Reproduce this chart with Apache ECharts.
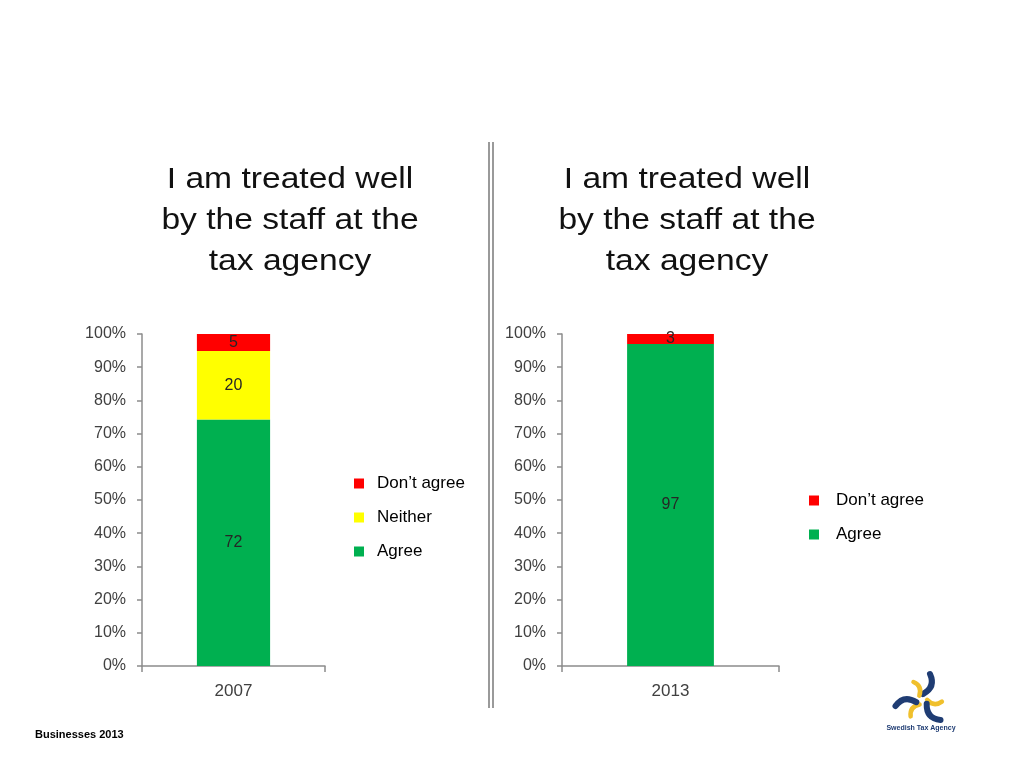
<!DOCTYPE html>
<html>
<head>
<meta charset="utf-8">
<script src="https://cdn.jsdelivr.net/npm/echarts@6/dist/echarts.min.js"></script>
<style>
html,body{margin:0;padding:0;background:#fff;}
#main{width:1024px;height:768px;}
</style>
</head>
<body>
<div id="main"></div>
<script>
// ---- data ----
const titleText = "I am treated well\nby the staff at the\ntax agency";
const categories2007 = ["2007"];
const categories2013 = ["2013"];
const agree2007 = [72];
const neither2007 = [20];
const disagree2007 = [5];
const agree2013 = [97];
const disagree2013 = [3];
const footer = "Businesses 2013";
const logoText = "Swedish Tax Agency";

const COLORS = { agree: '#00b050', neither: '#ffff00', disagree: '#ff0000' };
const FONT = 'Liberation Sans, Arial, sans-serif';

function pct(arr, totals) { return arr.map((v, i) => v / totals[i] * 100); }
const tot2007 = agree2007.map((v, i) => v + neither2007[i] + disagree2007[i]);
const tot2013 = agree2013.map((v, i) => v + disagree2013[i]);

const axisFont = { fontFamily: FONT, fontSize: 16, color: '#404040' };
const axisLineStyle = { color: '#8c8c8c', width: 1.5 };

function mkSeries(name, raw, totals, color, idx, stack) {
  return {
    name: name, type: 'bar', stack: stack, xAxisIndex: idx, yAxisIndex: idx,
    barWidth: '40%',
    data: pct(raw, totals).map((v, i) => ({ value: v, raw: raw[i] })),
    itemStyle: { color: color },
    label: {
      show: true, position: 'inside',
      formatter: p => String(p.data.raw),
      fontFamily: FONT, fontSize: 16, color: '#262626'
    }
  };
}

function mkY(idx) {
  return {
    type: 'value', gridIndex: idx, min: 0, max: 100, interval: 10,
    axisLine: { show: true, lineStyle: axisLineStyle },
    axisTick: { show: true, length: 5, lineStyle: axisLineStyle },
    splitLine: { show: false },
    axisLabel: Object.assign({ formatter: '{value}%', margin: 16 }, axisFont)
  };
}
function mkX(idx, cats) {
  return {
    type: 'category', gridIndex: idx, data: cats,
    axisLine: { show: true, lineStyle: axisLineStyle },
    axisTick: { show: true, length: 6, lineStyle: axisLineStyle },
    axisLabel: Object.assign({ margin: 17 }, axisFont, { fontSize: 17 })
  };
}

// logo blades (decorative)
function blades() {
  const out = [];
  for (let k = 0; k < 3; k++) {
    const a = -k * 2 * Math.PI / 3;
    out.push({ type: 'group', rotation: a, children: [
      { type: 'bezierCurve', shape: { x1: 1, y1: -6, cpx1: 14, cpy1: -13, x2: 8, y2: -26 },
        style: { stroke: '#1f3c73', lineWidth: 6, lineCap: 'round', fill: null } }
    ] });
    out.push({ type: 'group', rotation: a - Math.PI / 3 - 0.3, children: [
      { type: 'bezierCurve', shape: { x1: 1, y1: -5, cpx1: 10, cpy1: -10, x2: 6, y2: -19 },
        style: { stroke: '#f0c02c', lineWidth: 4.5, lineCap: 'round', fill: null } }
    ] });
  }
  return out;
}

const chart = echarts.init(document.getElementById('main'));
const legendText = { fontFamily: FONT, fontSize: 17, color: '#000', padding: [0, 0, 0, 8] };

chart.setOption({
  backgroundColor: '#ffffff',
  animation: false,
  grid: [
    { left: 142, right: 1024 - 325, top: 334, bottom: 768 - 666, containLabel: false },
    { left: 562, right: 1024 - 779, top: 334, bottom: 768 - 666, containLabel: false }
  ],
  xAxis: [mkX(0, categories2007), mkX(1, categories2013)],
  yAxis: [mkY(0), mkY(1)],
  legend: [
    { orient: 'vertical', left: 349, top: 470, itemWidth: 10, itemHeight: 10, itemGap: 17, icon: 'rect',
      data: ["Don\u2019t agree", 'Neither', 'Agree'], textStyle: legendText, selectedMode: false },
    { orient: 'vertical', left: 804, top: 487, itemWidth: 10, itemHeight: 10, itemGap: 17, icon: 'rect',
      data: ["Don\u2019t agree", 'Agree'], textStyle: Object.assign({}, legendText, { padding: [0, 0, 0, 12] }), selectedMode: false }
  ],
  series: [
    mkSeries('Agree', agree2007, tot2007, COLORS.agree, 0, 's1'),
    mkSeries('Neither', neither2007, tot2007, COLORS.neither, 0, 's1'),
    mkSeries("Don\u2019t agree", disagree2007, tot2007, COLORS.disagree, 0, 's1'),
    mkSeries('Agree', agree2013, tot2013, COLORS.agree, 1, 's2'),
    mkSeries("Don\u2019t agree", disagree2013, tot2013, COLORS.disagree, 1, 's2')
  ],
  graphic: [
    { type: 'text', x: 290, y: 159, scaleX: 1.12, originX: 0, originY: 0,
      style: { text: titleText, font: '30px ' + FONT, lineHeight: 41, fill: '#111', textAlign: 'center', textVerticalAlign: 'top' } },
    { type: 'text', x: 687, y: 159, scaleX: 1.12, originX: 0, originY: 0,
      style: { text: titleText, font: '30px ' + FONT, lineHeight: 41, fill: '#111', textAlign: 'center', textVerticalAlign: 'top' } },
    { type: 'text', x: 35, y: 729,
      style: { text: footer, font: 'bold 11px ' + FONT, fill: '#000', textVerticalAlign: 'top' } },
    { type: 'line', shape: { x1: 489, y1: 142, x2: 489, y2: 708 }, style: { stroke: '#9a9a9a', lineWidth: 2 } },
    { type: 'line', shape: { x1: 493, y1: 142, x2: 493, y2: 708 }, style: { stroke: '#9a9a9a', lineWidth: 2 } },
    { type: 'group', x: 922, y: 700, children: blades() },
    { type: 'text', x: 921, y: 725,
      style: { text: logoText, font: 'bold 7px ' + FONT, fill: '#1f3c73', textAlign: 'center', textVerticalAlign: 'top' } }
  ]
});
</script>
</body>
</html>
